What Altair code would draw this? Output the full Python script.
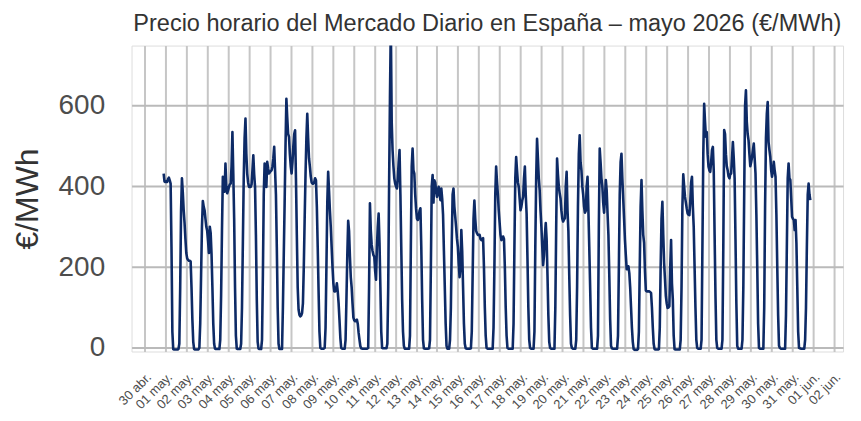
import altair as alt
import pandas as pd

TITLE = "Precio horario del Mercado Diario en España – mayo 2026 (€/MWh)"
Y_TITLE = "€/MWh"

TICK_LABELS = [
    "30 abr.", "01 may.", "02 may.", "03 may.", "04 may.", "05 may.", "06 may.",
    "07 may.", "08 may.", "09 may.", "10 may.", "11 may.", "12 may.", "13 may.",
    "14 may.", "15 may.", "16 may.", "17 may.", "18 may.", "19 may.", "20 may.",
    "21 may.", "22 may.", "23 may.", "24 may.", "25 may.", "26 may.", "27 may.",
    "28 may.", "29 may.", "30 may.", "31 may.", "01 jun.", "02 jun.",
]
Y_TICKS = [0, 200, 400, 600]

# Hourly prices (€/MWh), hours 00..23 local time (CEST)
MAY_01 = [432, 412, 411, 412, 411, 418, 422, 415, 407, 250, 40, -3, -4, -4, -4, -4, -4, -3, 10, 150, 340, 420, 385, 341]
MAY_02 = [310, 270, 235, 222, 218, 216, 216, 214, 150, 70, 15, -3, -4, -4, -4, -4, -4, 0, 60, 180, 300, 364, 350, 341]
MAY_03 = [320, 300, 290, 265, 235, 300, 285, 233, 150, 60, 10, -2, -3, -3, -3, -3, -3, 20, 130, 290, 424, 405, 387, 457]
MAY_04 = [400, 383, 390, 399, 405, 407, 450, 535, 432, 320, 150, 30, -2, -3, -3, -3, -3, 10, 100, 260, 420, 520, 568, 480]
MAY_05 = [432, 410, 399, 399, 399, 405, 440, 477, 430, 399, 280, 120, 15, -2, -3, -3, -3, 20, 180, 380, 457, 420, 399, 461]
MAY_06 = [445, 432, 435, 438, 440, 450, 470, 498, 440, 380, 250, 100, 10, -3, -3, -3, -3, 100, 230, 360, 500, 617, 570, 530]
MAY_07 = [523, 480, 450, 432, 460, 500, 530, 539, 420, 280, 150, 95, 82, 78, 80, 86, 110, 200, 320, 430, 520, 580, 520, 470]
MAY_08 = [449, 425, 410, 407, 407, 410, 420, 415, 350, 250, 140, 40, 0, -2, -2, -2, -2, 0, 50, 200, 360, 436, 390, 340]
MAY_09 = [300, 250, 200, 160, 140, 140, 145, 160, 140, 111, 70, 25, 0, -2, -2, -2, -2, 20, 120, 230, 315, 290, 226, 175]
MAY_10 = [150, 110, 75, 68, 66, 68, 70, 60, 37, 20, 4, -1, -2, -2, -2, -2, -2, -2, -2, 0, 150, 358, 290, 255]
MAY_11 = [240, 230, 226, 190, 169, 250, 300, 333, 260, 150, 40, 0, -1, -1, -1, -1, -1, 10, 150, 400, 620, 800, 560, 490]
MAY_12 = [450, 420, 407, 400, 395, 420, 460, 490, 380, 250, 120, 40, 5, -2, -2, -2, -2, -2, -2, 30, 250, 450, 494, 440]
MAY_13 = [432, 380, 345, 320, 317, 325, 340, 346, 250, 120, 20, -1, -2, -2, -2, -2, -2, -1, 20, 200, 400, 428, 360, 415]
MAY_14 = [410, 390, 374, 390, 399, 380, 366, 395, 370, 330, 240, 150, 60, 5, -2, -2, -2, 20, 100, 260, 380, 395, 350, 325]
MAY_15 = [300, 270, 250, 210, 175, 200, 292, 240, 150, 60, 10, -1, -2, -2, -2, -2, -2, -1, 40, 180, 320, 365, 320, 290]
MAY_16 = [284, 280, 280, 280, 270, 267, 270, 272, 200, 100, 30, 0, -2, -2, -2, -2, -2, -2, -2, 50, 200, 380, 449, 410]
MAY_17 = [380, 340, 310, 280, 267, 270, 276, 270, 200, 100, 30, 0, -2, -2, -2, -2, -2, -2, 60, 250, 420, 473, 440, 410]
MAY_18 = [399, 370, 341, 350, 365, 374, 420, 449, 380, 333, 220, 100, 20, 0, -2, -2, -2, -2, 40, 250, 420, 518, 470, 420]
MAY_19 = [391, 340, 300, 250, 205, 230, 280, 309, 270, 180, 80, 15, 0, -2, -2, -2, -2, -2, 100, 300, 469, 430, 400, 383]
MAY_20 = [370, 340, 320, 313, 318, 321, 400, 436, 340, 290, 180, 80, 10, 0, -2, -2, -2, -2, 20, 150, 350, 480, 527, 460]
MAY_21 = [440, 400, 380, 350, 335, 340, 400, 424, 340, 250, 150, 50, 0, -2, -2, -2, -2, -2, -2, 30, 300, 494, 460, 420]
MAY_22 = [400, 360, 335, 370, 416, 390, 333, 280, 180, 70, 5, -1, -2, -2, -2, -2, -2, -2, 30, 200, 380, 460, 481, 420]
MAY_23 = [370, 320, 267, 230, 195, 195, 202, 185, 150, 100, 50, 15, -3, -5, -5, -5, -5, -3, 40, 200, 350, 416, 340, 280]
MAY_24 = [260, 190, 142, 140, 140, 140, 140, 138, 136, 100, 50, 10, -3, -4, -4, -4, -4, -3, 50, 200, 320, 362, 280, 210]
MAY_25 = [170, 128, 110, 99, 100, 103, 200, 267, 160, 120, 30, -3, -4, -4, -4, -4, -4, -4, 20, 150, 350, 430, 400, 374]
MAY_26 = [360, 345, 333, 330, 329, 360, 410, 424, 350, 300, 200, 100, 20, 0, -2, -2, -2, -2, 20, 250, 480, 605, 560, 523]
MAY_27 = [535, 480, 449, 440, 436, 460, 490, 498, 440, 280, 130, 20, 0, -2, -2, -2, -2, -2, 20, 250, 540, 530, 480, 450]
MAY_28 = [440, 425, 420, 430, 432, 470, 510, 470, 420, 270, 110, 5, -2, -2, -2, -2, -2, 20, 150, 380, 600, 638, 560, 530]
MAY_29 = [514, 480, 450, 460, 473, 490, 506, 470, 432, 330, 200, 60, 0, -2, -2, -2, -2, -2, 100, 350, 520, 580, 609, 510]
MAY_30 = [490, 473, 440, 424, 440, 461, 440, 424, 330, 200, 80, 5, 0, -2, -2, -2, -2, -2, -2, 80, 250, 420, 457, 420]
MAY_31 = [416, 370, 325, 320, 317, 292, 317, 260, 150, 40, 0, -1, -2, -2, -2, -2, -2, 20, 100, 250, 380, 407, 380, 366]

DAYS = [MAY_01, MAY_02, MAY_03, MAY_04, MAY_05, MAY_06, MAY_07, MAY_08, MAY_09, MAY_10,
        MAY_11, MAY_12, MAY_13, MAY_14, MAY_15, MAY_16, MAY_17, MAY_18, MAY_19, MAY_20,
        MAY_21, MAY_22, MAY_23, MAY_24, MAY_25, MAY_26, MAY_27, MAY_28, MAY_29, MAY_30, MAY_31]

UTC_OFFSET_H = 2  # local CEST hours shown on a UTC day axis

rows = []
for day_idx, vals in enumerate(DAYS, start=1):
    for hour, v in enumerate(vals):
        rows.append({"t": day_idx + (hour - UTC_OFFSET_H) / 24.0, "price": v})
df = pd.DataFrame(rows)

label_expr = "[" + ",".join("'" + s + "'" for s in TICK_LABELS) + "][datum.value]"

FONT = "Liberation Sans"

chart = (
    alt.Chart(df)
    .mark_line(color="#0d2a66", strokeWidth=2.6, clip=True, strokeJoin="round")
    .encode(
        x=alt.X(
            "t:Q",
            scale=alt.Scale(domain=[-0.62, 33.44], nice=False, zero=False),
            axis=alt.Axis(
                values=list(range(len(TICK_LABELS))),
                labelExpr=label_expr,
                labelAngle=-45,
                labelAlign="right",
                labelBaseline="top",
                labelFontSize=13,
                labelColor="#4d4d4d",
                labelFont=FONT,
                labelPadding=19,
                labelOverlap=False,
                labelFlush=False,
                grid=True,
                gridColor="#c6c6c6",
                gridWidth=2,
                domain=False,
                ticks=False,
                title=None,
            ),
        ),
        y=alt.Y(
            "price:Q",
            scale=alt.Scale(domain=[-9, 749], nice=False, zero=False),
            axis=alt.Axis(
                values=Y_TICKS,
                labelFontSize=28,
                labelColor="#4d4d4d",
                labelFont=FONT,
                labelPadding=27,
                grid=True,
                gridColor="#bababa",
                gridWidth=2,
                domain=False,
                ticks=False,
                title=Y_TITLE,
                titleFontSize=32,
                titleFont=FONT,
                titleFontWeight="normal",
                titleColor="#333333",
                titlePadding=14,
            ),
        ),
    )
    .properties(
        width=714,
        height=307,
        padding={"left": 124, "top": 37, "right": 10, "bottom": 60},
        autosize=alt.AutoSizeParams(type="none"),
        title=alt.TitleParams(
            TITLE, fontSize=23.6, font=FONT, fontWeight="normal", color="#333333",
            anchor="middle", offset=10,
        ),
    )
    .configure_view(stroke=None)
    .configure(background="white")
)

chart.save("out.html", embed_options={"renderer": "svg", "actions": False})
